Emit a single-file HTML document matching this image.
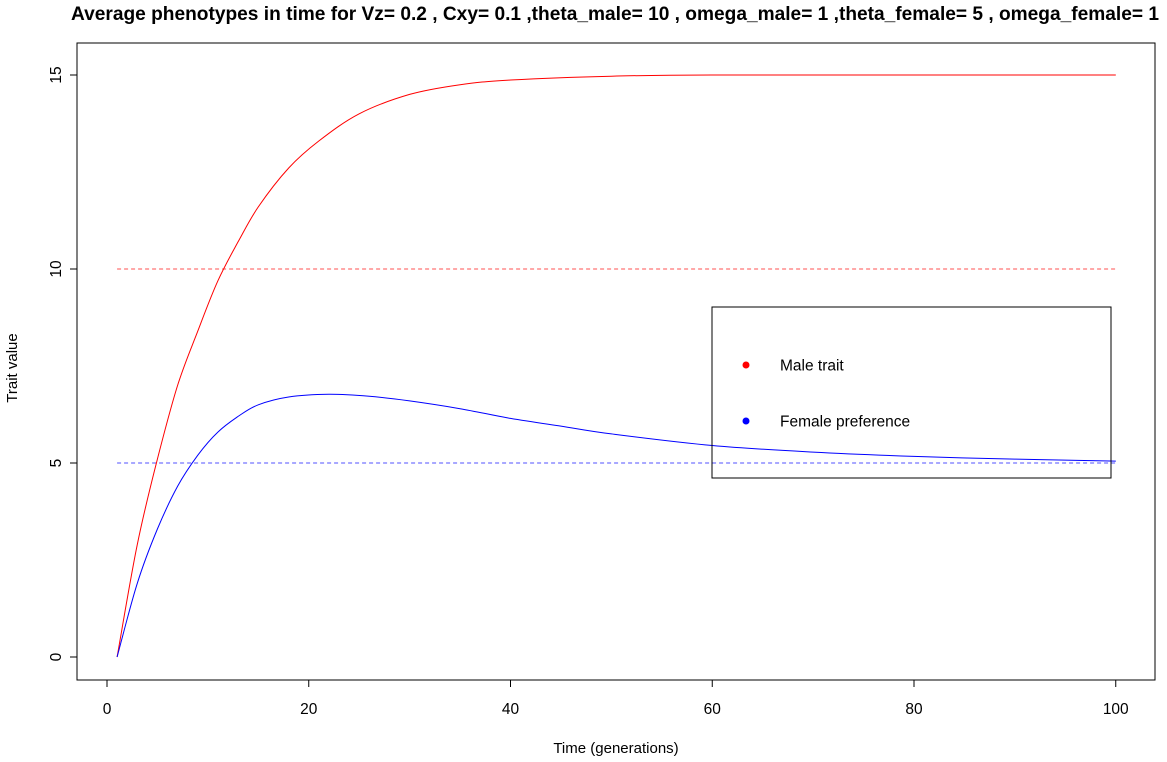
<!DOCTYPE html>
<html><head><meta charset="utf-8"><style>
body{margin:0;background:#fff}
svg{display:block;font-family:"Liberation Sans",Arial,sans-serif}
</style></head><body>
<svg id="chart" width="1167" height="762">
<text x="615" y="20" text-anchor="middle" font-size="19" font-weight="bold" textLength="1088" lengthAdjust="spacingAndGlyphs">Average phenotypes in time for Vz= 0.2 , Cxy= 0.1 ,theta_male= 10 , omega_male= 1 ,theta_female= 5 , omega_female= 1</text>
<rect x="77" y="43" width="1078" height="637" fill="none" stroke="#000"/>
<text x="616" y="753" text-anchor="middle" font-size="15">Time (generations)</text>
<text transform="translate(17,368) rotate(-90)" text-anchor="middle" font-size="15">Trait value</text>
<g id="axes"></g>
<g id="marks"></g>
<rect x="712" y="307" width="399" height="171" fill="none" stroke="#000"/>
<circle cx="746" cy="365" r="3.5" fill="#f00"/>
<text x="780" y="370.5" font-size="15.5">Male trait</text>
<circle cx="746" cy="421" r="3.5" fill="#00f"/>
<text x="780" y="426.5" font-size="15.5">Female preference</text>
</svg>
<script>
const xTicks=[0,20,40,60,80,100];
const yTicks=[0,5,10,15];
const maleT=[1,3,5,7,9,11,13,15,18,21,25,30,35,40,50,60,80,100];
const maleV=[0,2.9,5.1,7.0,8.4,9.7,10.7,11.6,12.6,13.3,14.0,14.5,14.75,14.87,14.97,15,15,15];
const femaleT=[1,3,5,7,9,11,13,15,18,22,26,30,35,40,45,50,60,70,80,90,100];
const femaleV=[0,1.9,3.3,4.4,5.2,5.8,6.2,6.5,6.7,6.77,6.72,6.6,6.4,6.15,5.95,5.75,5.45,5.28,5.17,5.1,5.05];
const thetaMale=10, thetaFemale=5;
const X=t=>107+t*10.0875, Y=v=>657-v*38.8;
const NS="http://www.w3.org/2000/svg";
const axes=document.getElementById('axes'), marks=document.getElementById('marks');
function mk(tag,attrs,parent){const e=document.createElementNS(NS,tag);for(const k in attrs)e.setAttribute(k,attrs[k]);parent.appendChild(e);return e;}
let xa=mk('line',{x1:X(0),x2:X(100),y1:680,y2:680,stroke:'#000'},axes);


xTicks.forEach(t=>{
  const l=mk('line',{x1:X(t),x2:X(t),y1:680,y2:687,stroke:'#000'},axes);
  
  
  const tx=mk('text',{x:X(t),y:714,'text-anchor':'middle','font-size':15.5},axes);
  tx.textContent=t;
  
  
});
let ya=mk('line',{x1:77,x2:77,y1:Y(0),y2:Y(15),stroke:'#000'},axes);


yTicks.forEach(v=>{
  const l=mk('line',{x1:70,x2:77,y1:Y(v),y2:Y(v),stroke:'#000'},axes);
  
  
  const tx=mk('text',{transform:`translate(${61},${Y(v)}) rotate(-90)`,'text-anchor':'middle','font-size':15.5},axes);
  tx.textContent=v;
  
  
});
let d1=mk('line',{x1:X(1),x2:X(100),y1:Y(thetaMale),y2:Y(thetaMale),stroke:'#ff5050','stroke-dasharray':'4,3'},marks);


let d2=mk('line',{x1:X(1),x2:X(100),y1:Y(thetaFemale),y2:Y(thetaFemale),stroke:'#5050ff','stroke-dasharray':'4,3'},marks);


function path(T,V){
  const P=T.map((t,i)=>[X(t),Y(V[i])]);
  let d='M'+P[0][0].toFixed(1)+','+P[0][1].toFixed(1);
  for(let i=0;i<P.length-1;i++){
    const p0=P[i-1]||P[i],p1=P[i],p2=P[i+1],p3=P[i+2]||P[i+1];
    const c1=[p1[0]+(p2[0]-p0[0])/6,p1[1]+(p2[1]-p0[1])/6];
    const c2=[p2[0]-(p3[0]-p1[0])/6,p2[1]-(p3[1]-p1[1])/6];
    d+=`C${c1[0].toFixed(1)},${c1[1].toFixed(1)} ${c2[0].toFixed(1)},${c2[1].toFixed(1)} ${p2[0].toFixed(1)},${p2[1].toFixed(1)}`;
  }
  return d;
}
let p1=mk('path',{d:path(maleT,maleV),fill:'none',stroke:'#f00'},marks);


let p2=mk('path',{d:path(femaleT,femaleV),fill:'none',stroke:'#00f'},marks);


</script>
</body></html>
